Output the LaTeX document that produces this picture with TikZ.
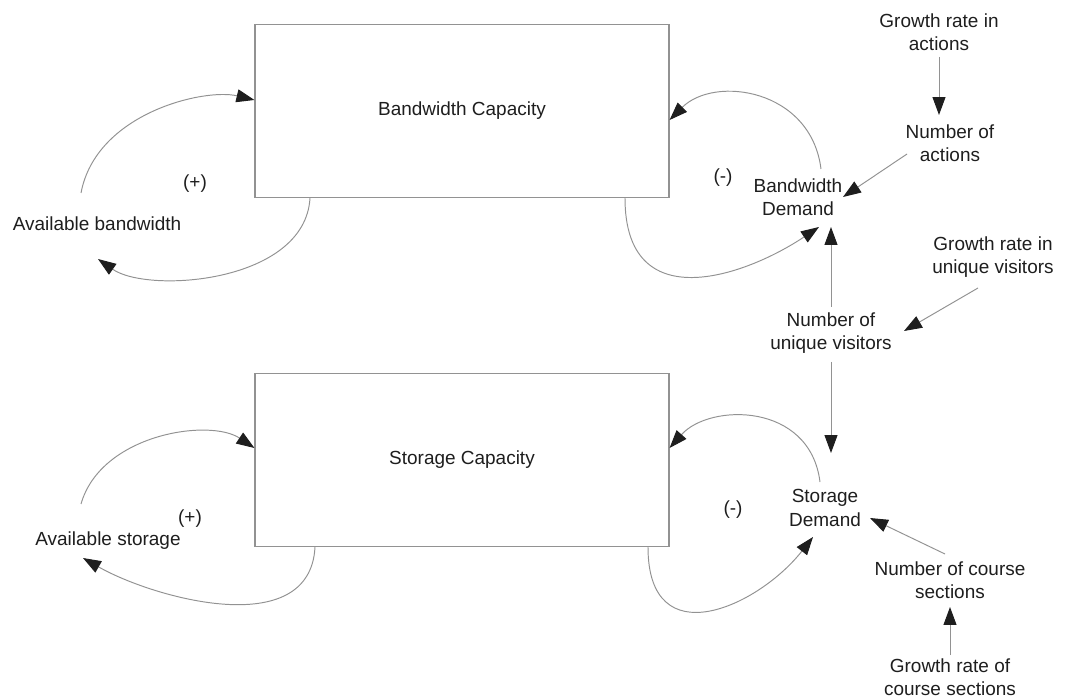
\documentclass[tikz,border=0pt]{standalone}
\usepackage{fontspec}
\setmainfont{Liberation Sans}
\usepackage{tikz}
\usetikzlibrary{arrows.meta,calc}
\definecolor{edge}{HTML}{929292}
\definecolor{ink}{HTML}{1E1E1E}

\begin{document}
\begin{tikzpicture}[x=0.02cm,y=-0.02cm,
  lbl/.style={align=center,font=\fontsize{10.8}{13.3}\selectfont,text=ink,inner sep=1pt},
  stock/.style={draw=edge,line width=0.7pt,minimum width=8.28cm,minimum height=3.46cm,
                inner sep=0pt,font=\fontsize{10.8}{13.3}\selectfont,text=ink},
  arr/.style={-{Triangle[length=3.6mm,width=2.6mm,color=ink,fill=ink]},draw=edge,line width=0.55pt}]
  \useasboundingbox (0,0) rectangle (1066,699);

  % capacity stocks
  \node[stock] (bwcap) at (462,111) {Bandwidth Capacity};
  \node[stock] (stcap) at (462,460) {Storage Capacity};

  % variables
  \node[lbl] (avbw) at (97,224) {Available bandwidth};
  \node[lbl] (avst) at (108,541) {Available storage};
  \node[lbl] (bwd) at (798,197) {Bandwidth\\Demand};
  \node[lbl] (sd) at (825,508) {Storage\\Demand};
  \node[lbl] (gra) at (939,32) {Growth rate in\\actions};
  \node[lbl] (noa) at (950,143) {Number of\\actions};
  \node[lbl] (gruv) at (993,257) {Growth rate in\\unique visitors};
  \node[lbl] (nuv) at (831,333) {Number of\\unique visitors};
  \node[lbl] (ncs) at (950,580) {Number of course\\sections};
  \node[lbl] (grcs) at (950,677) {Growth rate of\\course sections};

  % loop polarities
  \node[lbl] (bwpos) at (195,184) {(+)};
  \node[lbl] (stpos) at (190,519) {(+)};
  \node[lbl] (bwneg) at (723,178) {(-)};
  \node[lbl] (stneg) at (733,510) {(-)};

  % bandwidth loops
  \draw[arr] ($(avbw)+(-16,-31)$) .. controls +(15,-80) and +(-50,-12) .. ($(bwcap.west)+(0,-11)$);
  \draw[arr] ($(bwcap.south)+(-152,0)$) .. controls +(-5,85) and +(50,35) .. ($(avbw)+(1,35)$);
  \draw[arr] ($(bwd)+(23,-28)$) .. controls +(-10,-80) and +(45,-45) .. ($(bwcap.east)+(0,9)$);
  \draw[arr] ($(bwcap.south)+(163,0)$) .. controls +(0,120) and +(-75,50) .. ($(bwd)+(21,30)$);

  % storage loops
  \draw[arr] ($(avst)+(-27,-37)$) .. controls +(20,-70) and +(-45,-30) .. ($(stcap.west)+(0,-12)$);
  \draw[arr] ($(stcap.south)+(-147,0)$) .. controls +(-5,95) and +(70,40) .. ($(avst)+(-25,17)$);
  \draw[arr] ($(sd)+(-5,-26)$) .. controls +(-10,-80) and +(40,-45) .. ($(stcap.east)+(0,-12)$);
  \draw[arr] ($(stcap.south)+(186,0)$) .. controls +(0,110) and +(-55,70) .. ($(sd)+(-12,29)$);

  % drivers
  \draw[arr] ($(gra)+(0,25)$) -- ($(noa)+(-11,-28)$);
  \draw[arr] ($(noa)+(-43,11)$) -- ($(bwd)+(45,0)$);
  \draw[arr] ($(nuv)+(0,-26)$) -- ($(bwd)+(33,30)$);
  \draw[arr] ($(gruv)+(-15,31)$) -- ($(nuv)+(73,-2)$);
  \draw[arr] ($(nuv)+(0,29)$) -- ($(sd)+(6,-55)$);
  \draw[arr] ($(ncs)+(-5,-26)$) -- ($(sd)+(45,10)$);
  \draw[arr] ($(grcs)+(0,-22)$) -- ($(ncs)+(0,27)$);
\end{tikzpicture}
\end{document}
